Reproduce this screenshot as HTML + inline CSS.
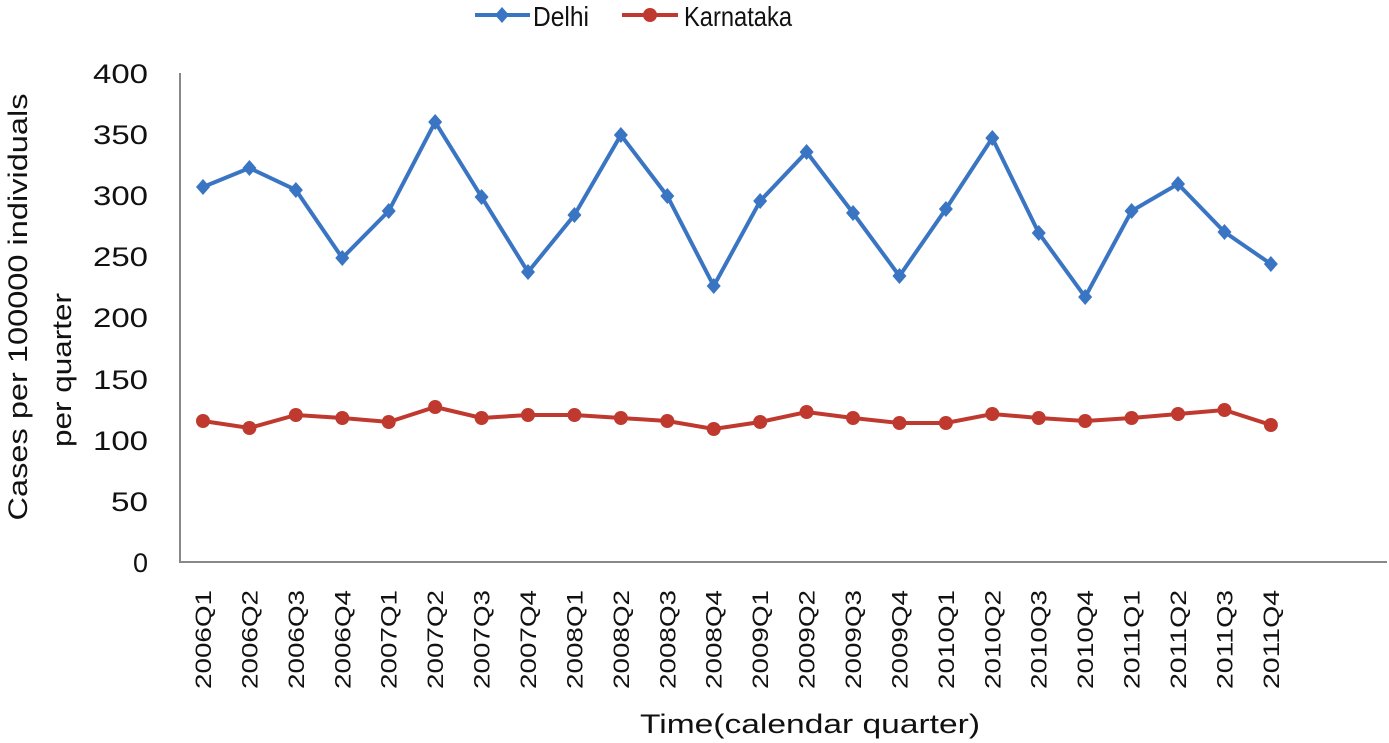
<!DOCTYPE html>
<html><head><meta charset="utf-8"><style>body{margin:0;background:#fff}svg{display:block}</style></head><body>
<svg width="1389" height="743" xmlns="http://www.w3.org/2000/svg" font-family="Liberation Sans, sans-serif">
<rect width="1389" height="743" fill="#fff"/>
<line x1="180" y1="73" x2="180" y2="562" stroke="#888" stroke-width="2"/>
<line x1="179" y1="562" x2="1387" y2="562" stroke="#888" stroke-width="2"/>
<g font-size="27" text-anchor="end" fill="#111">
<text x="148" y="83" textLength="55" lengthAdjust="spacingAndGlyphs">400</text><text x="148" y="144" textLength="55" lengthAdjust="spacingAndGlyphs">350</text><text x="148" y="205" textLength="55" lengthAdjust="spacingAndGlyphs">300</text><text x="148" y="266" textLength="55" lengthAdjust="spacingAndGlyphs">250</text><text x="148" y="327" textLength="55" lengthAdjust="spacingAndGlyphs">200</text><text x="148" y="389" textLength="55" lengthAdjust="spacingAndGlyphs">150</text><text x="148" y="450" textLength="55" lengthAdjust="spacingAndGlyphs">100</text><text x="148" y="511" textLength="37" lengthAdjust="spacingAndGlyphs">50</text><text x="148" y="572">0</text>
</g>
<g font-size="27" text-anchor="middle" fill="#111">
<text transform="translate(27,307) rotate(-90)" textLength="427" lengthAdjust="spacingAndGlyphs">Cases per 100000 individuals</text>
<text transform="translate(71,370) rotate(-90)" textLength="154" lengthAdjust="spacingAndGlyphs">per quarter</text>
<text x="810" y="733" textLength="340" lengthAdjust="spacingAndGlyphs">Time(calendar quarter)</text>
</g>
<g id="xl" font-size="22" text-anchor="end" fill="#111"></g>
<polyline id="d" fill="none" stroke="#3a75c4" stroke-width="4"/>
<polyline id="k" fill="none" stroke="#c0392f" stroke-width="4"/>
<g id="dm" fill="#3a75c4"></g><g id="km" fill="#c0392f"></g>
<line x1="475" y1="15" x2="530" y2="15" stroke="#3a75c4" stroke-width="4"/>
<path d="M502 7 L509 15 L502 23 L495 15Z" fill="#3a75c4"/>
<text x="533" y="26" font-size="28" fill="#111" textLength="56" lengthAdjust="spacingAndGlyphs">Delhi</text>
<line x1="622" y1="15" x2="678" y2="15" stroke="#c0392f" stroke-width="4"/>
<circle cx="650" cy="15" r="7" fill="#c0392f"/>
<text x="684" y="26" font-size="28" fill="#111" textLength="108" lengthAdjust="spacingAndGlyphs">Karnataka</text>
</svg>
<script>
var D=[187,168,190,258,211,122,197,272,215,135,196,286,201,152,213,276,209,138,233,297,211,184,232,264];
var K=[421,428,415,418,422,407,418,415,415,418,421,429,422,412,418,423,423,414,418,421,418,414,410,425];
var ns="http://www.w3.org/2000/svg",pd=[],pk=[],xl=document.getElementById('xl'),dm=document.getElementById('dm'),km=document.getElementById('km');
for(var i=0;i<24;i++){var x=203+i*46.43;pd.push(x+','+D[i]);pk.push(x+','+K[i]);
var p=document.createElementNS(ns,'path');p.setAttribute('d','M'+x+' '+(D[i]-8)+'L'+(x+7)+' '+D[i]+'L'+x+' '+(D[i]+8)+'L'+(x-7)+' '+D[i]+'Z');dm.appendChild(p);
var c=document.createElementNS(ns,'circle');c.setAttribute('cx',x);c.setAttribute('cy',K[i]);c.setAttribute('r',7);km.appendChild(c);
var t=document.createElementNS(ns,'text');t.setAttribute('transform','translate('+(x+8)+',590) rotate(-90)');t.setAttribute('textLength','99');t.setAttribute('lengthAdjust','spacingAndGlyphs');t.textContent=(2006+Math.floor(i/4))+'Q'+(i%4+1);xl.appendChild(t);}
document.getElementById('d').setAttribute('points',pd.join(' '));document.getElementById('k').setAttribute('points',pk.join(' '));
</script>
</body></html>
